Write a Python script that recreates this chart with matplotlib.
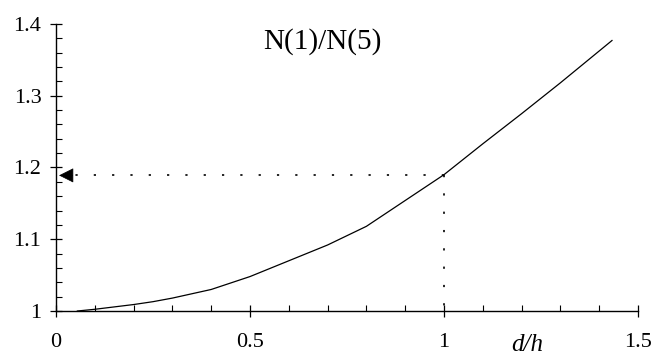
import matplotlib
matplotlib.use("Agg")
import matplotlib.pyplot as plt
from matplotlib.ticker import MultipleLocator

plt.rcParams['font.family'] = ['Liberation Serif', 'DejaVu Serif']

# data
d_over_h = [0.055, 0.1, 0.2, 0.25, 0.3, 0.4, 0.5, 0.6, 0.7, 0.8, 0.9, 1.0,
            1.1, 1.2, 1.3, 1.433]
ratio = [1.0, 1.0024, 1.009, 1.013, 1.018, 1.030, 1.048, 1.070, 1.092, 1.118,
         1.154, 1.19, 1.233, 1.275, 1.318, 1.377]
ref_x = 1.0
ref_y = 1.189
x_ticks = [0, 0.5, 1, 1.5]
x_tick_labels = ["0", "0.5", "1", "1.5"]
y_ticks = [1.0, 1.1, 1.2, 1.3, 1.4]
y_tick_labels = ["1", "1.1", "1.2", "1.3", "1.4"]
title_text = "N(1)/N(5)"
xlabel_text = "d/h"

fig = plt.figure(figsize=(6.52, 3.56), dpi=100)
ax = fig.add_axes([0.0859, 0.1264, 0.8926, 0.8062])
ax.set_xlim(0, 1.5)
ax.set_ylim(1.0, 1.4)

for s in ['top', 'right']:
    ax.spines[s].set_visible(False)
for s in ['left', 'bottom']:
    ax.spines[s].set_linewidth(1.0)
    ax.spines[s].set_color('black')

ax.set_xticks(x_ticks, x_tick_labels)
ax.set_yticks(y_ticks, y_tick_labels)
ax.xaxis.set_minor_locator(MultipleLocator(0.1))
ax.yaxis.set_minor_locator(MultipleLocator(0.02))
ax.tick_params(which='major', direction='inout', length=9, width=0.9,
               labelsize=16)
ax.tick_params(which='minor', direction='in', length=4.5, width=0.8)
ax.tick_params(axis='x', which='major', pad=11)
ax.tick_params(axis='y', which='major', pad=6)

ax.plot(d_over_h, ratio, color='black', lw=0.9, solid_joinstyle='round',
        zorder=3)

dots = (0, (1.33, 9.66))
ax.plot([ref_x, 0.045], [ref_y, ref_y], color='black', lw=1.2,
        linestyle=dots, dash_capstyle='butt')
ax.plot([ref_x, ref_x], [ref_y, 1.0], color='black', lw=1.2,
        linestyle=dots, dash_capstyle='butt')
ax.annotate('', xy=(0, ref_y), xytext=(12, 0), textcoords='offset points',
            arrowprops=dict(arrowstyle='-|>,head_length=9.4,head_width=4.7',
                            mutation_scale=1, color='black', lw=0.5,
                            shrinkA=0, shrinkB=2.2))

ax.text(0.687, 1.365, title_text, ha='center', va='baseline', fontsize=21)
ax.text(0.81, -0.141, xlabel_text, transform=ax.transAxes, ha='center',
        va='baseline', fontsize=18, fontstyle='italic')

fig.savefig('out.png', dpi=100)
